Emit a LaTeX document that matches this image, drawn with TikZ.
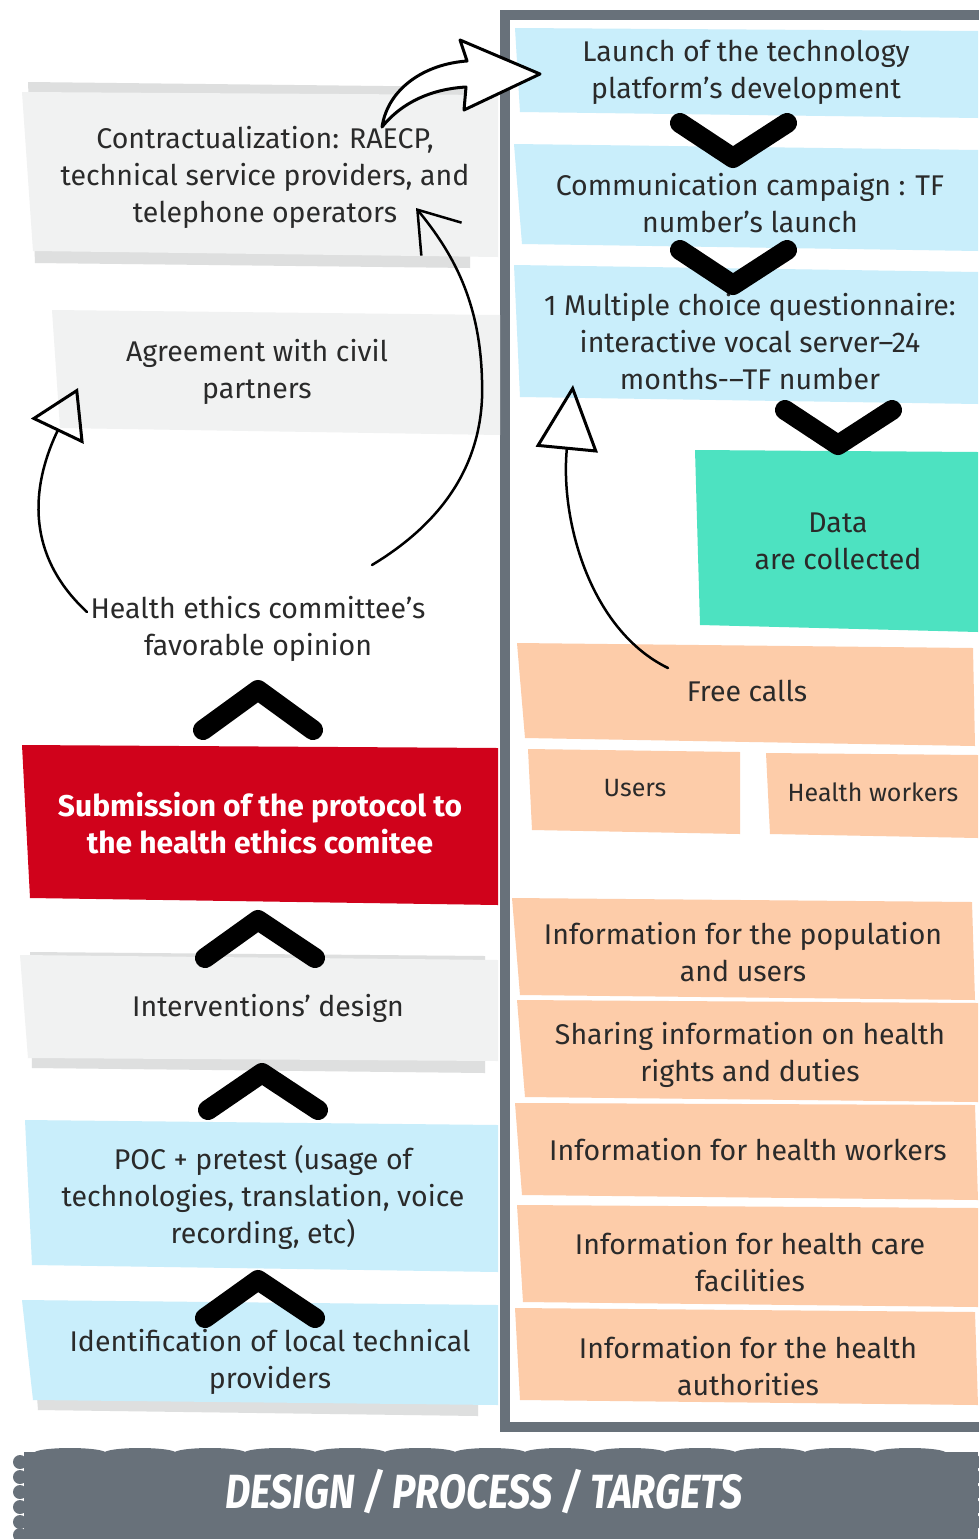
\documentclass[tikz,border=0pt]{standalone}
\usepackage{fontspec}
\setmainfont{Fira Sans}
\usetikzlibrary{arrows.meta}
\definecolor{lblue}{HTML}{C9EEFB}
\definecolor{gbox}{HTML}{F1F2F2}
\definecolor{gshadow}{HTML}{DEDFDF}
\definecolor{greenbox}{HTML}{4DE2C1}
\definecolor{orangebox}{HTML}{FDCCA9}
\definecolor{redbox}{HTML}{D0021B}
\definecolor{framec}{HTML}{68717A}
\definecolor{txtc}{HTML}{2A2A2A}
\tikzset{
  txt/.style={font=\fontsize{28.5}{37}\selectfont, text=txtc, align=center, inner sep=0pt},
  smalltxt/.style={font=\fontsize{25}{30}\selectfont, text=txtc, align=center, inner sep=0pt},
  chev/.style={line width=20pt, line cap=round, line join=round, black},
  sketch/.style={line width=2.5pt, black, line cap=round, line join=round},
}
\begin{document}
\begin{tikzpicture}[x=1pt,y=-1pt]
\useasboundingbox (0,0) rectangle (978,1539);
\fill[white] (0,0) rectangle (978,1539);

% ---------- right panel boxes ----------
\fill[lblue] (515,28) -- (978,31) -- (978,118) -- (520,112) -- cycle;
\fill[lblue] (514,144) -- (978,150) -- (978,251) -- (522,244) -- cycle;
\fill[lblue] (514,265) -- (978,272) -- (978,404) -- (520,397) -- cycle;
\fill[greenbox] (695,450) -- (978,452) -- (978,632) -- (700,625) -- cycle;
\fill[orangebox] (517,643) -- (973,648) -- (975,746) -- (525,738) -- cycle;
\fill[orangebox] (528,749) -- (740,752) -- (740,834) -- (532,830) -- cycle;
\fill[orangebox] (766,753) -- (978,755) -- (978,838) -- (770,834) -- cycle;
\fill[orangebox] (512,898) -- (972,902) -- (975,1000) -- (520,995) -- cycle;
\fill[orangebox] (517,1000) -- (978,1003) -- (978,1102) -- (525,1097) -- cycle;
\fill[orangebox] (515,1103) -- (975,1105) -- (978,1200) -- (522,1195) -- cycle;
\fill[orangebox] (517,1205) -- (978,1208) -- (978,1307) -- (523,1302) -- cycle;
\fill[orangebox] (515,1308) -- (975,1312) -- (978,1405) -- (520,1400) -- cycle;

% frame
\draw[framec, line width=10pt] (990,15) -- (505,15) -- (505,1427) -- (990,1427);

% ---------- left boxes ----------
\fill[gshadow] (28,82) -- (472,87) -- (470,268) -- (35,263) -- cycle;
\fill[gbox] (22,92) -- (498,95) -- (498,257) -- (33,251) -- cycle;
\fill[gbox] (52,310) -- (500,315) -- (500,435) -- (60,428) -- cycle;
\fill[redbox] (22,745) -- (498,748) -- (498,905) -- (30,898) -- cycle;
\fill[gshadow] (30,952) -- (485,956) -- (485,1073) -- (32,1068) -- cycle;
\fill[gbox] (20,955) -- (498,960) -- (498,1061) -- (28,1058) -- cycle;
\fill[lblue] (25,1120) -- (498,1125) -- (498,1272) -- (32,1265) -- cycle;
\fill[gshadow] (30,1305) -- (478,1309) -- (478,1416) -- (38,1410) -- cycle;
\fill[lblue] (22,1300) -- (498,1305) -- (498,1405) -- (33,1400) -- cycle;

% ---------- text nodes ----------
\node[txt] (launch) at (746,72) {Launch of the technology\\platform’s development};
\node[txt] (comm) at (750,203) {Communication campaign : TF\\number’s launch};
\node[txt] (mcq) at (750,342) {1 Multiple choice questionnaire:\\interactive vocal server–24\\months{-}–TF number};
\node[txt] (data) at (838,541) {Data\\are collected};
\node[txt] (free) at (747,691) {Free calls};
\node[smalltxt] (users) at (635,788) {Users};
\node[smalltxt] (hw) at (873,792) {Health workers};
\node[txt] (pop) at (743,952) {Information for the population\\and users};
\node[txt] (share) at (750,1055) {Sharing information on health\\rights and duties};
\node[txt] (infohw) at (748,1150) {Information for health workers};
\node[txt] (care) at (750,1262) {Information for health care\\facilities};
\node[txt] (auth) at (748,1366) {Information for the health\\authorities};

\node[txt] (contract) at (265,177) {Contractualization: RAECP,\\technical service providers, and\\telephone operators};
\node[txt] (agree) at (257,372) {Agreement with civil\\partners};
\node[txt] (opinion) at (258,629) {Health ethics committee’s\\favorable opinion};
\node[txt, text=white, font=\fontsize{30}{37}\selectfont\bfseries] (submit) at (260,823) {Submission of the protocol to\\the health ethics comitee};
\node[txt] (design) at (268,1008) {Interventions’ design};
\node[txt] (poc) at (263,1197) {POC + pretest (usage of\\technologies, translation, voice\\recording, etc)};
\node[txt] (ident) at (270,1362) {Identification of local technical\\providers};

% ---------- chevrons ----------
\draw[chev] (680,123) -- (733,158) -- (787,123);
\draw[chev] (680,250) -- (733,285) -- (787,250);
\draw[chev] (785,410) -- (838,445) -- (892,410);
\draw[chev] (203,730) -- (258,690) -- (313,730);
\draw[chev] (205,958) -- (258,920) -- (315,958);
\draw[chev] (208,1110) -- (262,1073) -- (318,1110);
\draw[chev] (205,1318) -- (258,1280) -- (315,1318);

% ---------- sketch arrows ----------
% hollow block arrow: contractualization -> launch
\coordinate (c1tail) at (382,127);
\coordinate (c1tip) at (540,74);
\filldraw[sketch, fill=white, line width=3pt]
  (c1tail) .. controls (388,88) and (425,64) .. (467,61)
  -- (460,40) -- (c1tip) -- (464,110) -- (466,87)
  .. controls (432,89) and (402,102) .. (c1tail) -- cycle;

% opinion -> contractualization
\coordinate (a2s) at (372,565);
\coordinate (a2e) at (416,208);
\draw[sketch, -{Straight Barb[length=38pt,width=52pt,line width=2.5pt]}]
  (a2s) .. controls (455,515) and (485,450) .. (482,380)
  .. controls (480,300) and (452,252) .. (a2e);

% opinion -> agreement
\coordinate (a3s) at (87,612);
\coordinate (a3e) at (78,388);
\draw[sketch, -{Triangle[open,length=48pt,width=58pt,line width=3pt]}]
  (a3s) .. controls (20,550) and (35,478) .. (a3e);

% free calls -> questionnaire
\coordinate (a4s) at (668,668);
\coordinate (a4e) at (573,385);
\draw[sketch, -{Triangle[open,length=65pt,width=62pt,line width=3pt]}]
  (a4s) .. controls (590,630) and (560,520) .. (a4e);

% ---------- banner ----------
\fill[framec] (24,1452) rectangle (978,1539);
\foreach \x in {70,140,210,280,350,420,490,560,630,700,770,840,910}
  \fill[framec] (\x,1453) ellipse (36pt and 5pt);
\foreach \y in {1462,1477,1492,1507,1522,1535}
  \fill[framec] (20,\y) circle (7pt);
\foreach \y in {1462,1477,1492,1507,1522}
  \fill[framec] (975,\y) circle (7pt);
\node[inner sep=0pt, text=white, font=\fontsize{48}{50}\selectfont\bfseries\itshape] (banner) at (484,1492)
  {\scalebox{0.82}[1]{DESIGN / PROCESS / TARGETS}};
\end{tikzpicture}
\end{document}
